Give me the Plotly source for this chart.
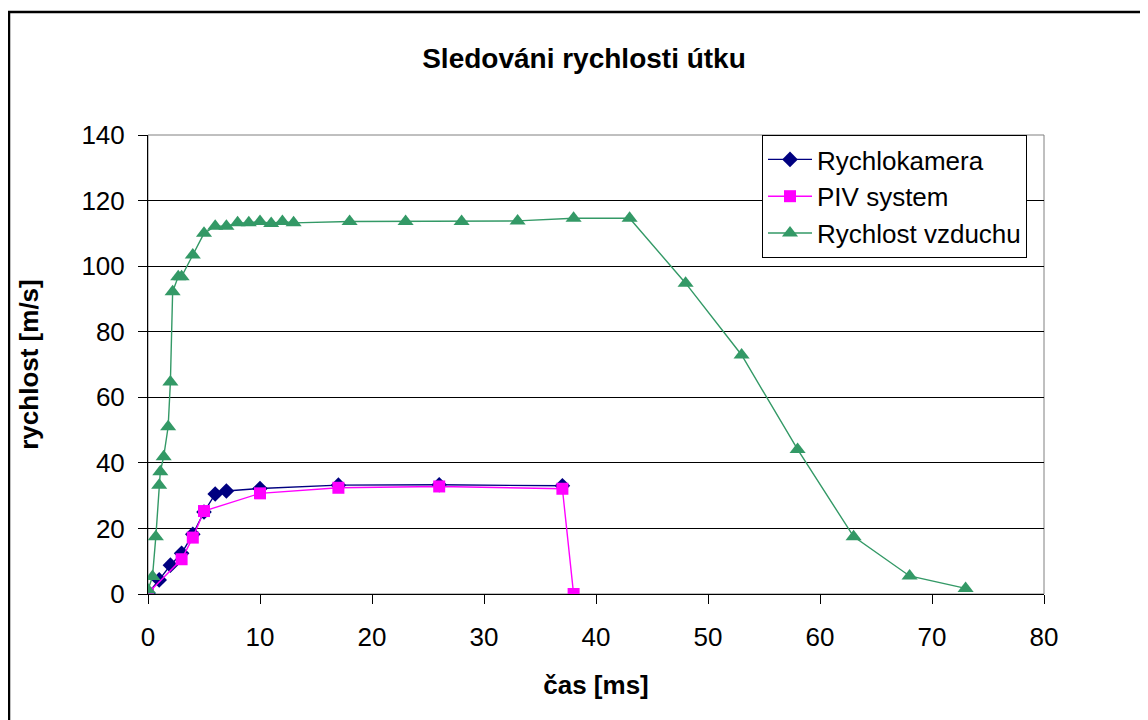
import plotly.graph_objects as go

# --- data ---
t_kamera = [0, 1, 2, 3, 4, 5, 6, 7, 10, 17, 26, 37]
v_kamera = [0.3, 4.3, 8.8, 12.4, 18.2, 25.0, 30.5, 31.4, 32.2, 33.2, 33.3, 33.0]

t_piv = [0, 3, 4, 5, 10, 17, 26, 37, 38]
v_piv = [0.2, 10.6, 17.2, 25.3, 30.7, 32.4, 32.8, 32.1, 0]

t_air = [0, 0.4, 0.7, 1.0, 1.1, 1.4, 1.8, 2.0, 2.2, 2.7, 3.0, 4.0, 5, 6, 7, 8, 9,
         10, 11, 12, 13, 18, 23, 28, 33, 38, 43, 48, 53, 58, 63, 68, 73]
v_air = [1.2, 5.3, 17.5, 33.2, 37.3, 41.9, 51.0, 64.7, 92.2, 96.8, 96.8, 103.4, 110.0,
         112.2, 112.2, 113.2, 113.2, 113.6, 113.0, 113.6, 113.2, 113.6, 113.6, 113.6,
         113.8, 114.6, 114.6, 94.8, 72.9, 44.1, 17.5, 5.5, 1.7]

names = ["Rychlokamera", "PIV system", "Rychlost vzduchu"]
x_ticks = [0, 10, 20, 30, 40, 50, 60, 70, 80]
y_ticks = [0, 20, 40, 60, 80, 100, 120, 140]

FONT = "Arial, Liberation Sans, sans-serif"

fig = go.Figure()
fig.add_trace(go.Scatter(x=t_kamera, y=v_kamera, name=names[0], mode="lines+markers",
                         line=dict(color="#000080", width=1.4),
                         marker=dict(symbol="diamond", size=12, color="#000080")))
fig.add_trace(go.Scatter(x=t_piv, y=v_piv, name=names[1], mode="lines+markers",
                         line=dict(color="#FF00FF", width=1.4),
                         marker=dict(symbol="square", size=12, color="#FF00FF")))
fig.add_trace(go.Scatter(x=t_air, y=v_air, name=names[2], mode="lines+markers",
                         line=dict(color="#339966", width=1.4),
                         marker=dict(symbol="triangle-up", size=14, color="#339966")))

# page has an 8px body margin, so the figure is drawn at (8, 8)
W, H = 1140, 712
L, R, T, B = 140, 104, 127, 126
pw, ph = W - L - R, H - T - B

fig.update_layout(
    width=W, height=H,
    margin=dict(l=L, r=R, t=T, b=B, pad=0),
    paper_bgcolor="white", plot_bgcolor="white",
    font=dict(family=FONT, size=26, color="black"),
    title=dict(text="<b>Sledováni rychlosti útku</b>", x=576 / W, xanchor="center",
               y=1 - 50 / H, yanchor="middle", font=dict(size=28, family=FONT)),
    showlegend=True,
    legend=dict(x=(754 - L) / pw, xanchor="left", y=1.0, yanchor="top",
                bordercolor="black", borderwidth=1, bgcolor="white",
                font=dict(size=26, family=FONT), itemwidth=44),
    xaxis=dict(range=[0, 80], tickvals=x_ticks, ticktext=[str(v) for v in x_ticks],
               showgrid=False, zeroline=False, showline=True, linecolor="black",
               linewidth=1, ticks="outside", ticklen=9, tickcolor="black",
               ticklabelstandoff=11,
               title=dict(text="<b>čas [ms]</b>", standoff=24, font=dict(size=26))),
    yaxis=dict(range=[0, 140], tickvals=y_ticks, ticktext=[str(v) for v in y_ticks],
               showgrid=True, gridcolor="black", gridwidth=1, zeroline=False,
               showline=True, linecolor="black", linewidth=1, ticks="outside",
               ticklen=9, tickcolor="black", ticklabelstandoff=8,
               title=dict(text="<b>rychlost [m/s]</b>", standoff=35, font=dict(size=26))),
    shapes=[
        # plot-area frame (gray)
        dict(type="rect", xref="paper", yref="paper", x0=0, y0=0, x1=1, y1=1,
             line=dict(color="#808080", width=1), layer="below"),
        # chart-area frame (black)
        dict(type="rect", xref="paper", yref="paper",
             x0=(1 - L) / pw, x1=(W + 4 - L) / pw,
             y0=-(B + 4) / ph, y1=(H - B - 4) / ph,
             line=dict(color="black", width=2.5)),
    ],
)

fig.write_html("out.html")
